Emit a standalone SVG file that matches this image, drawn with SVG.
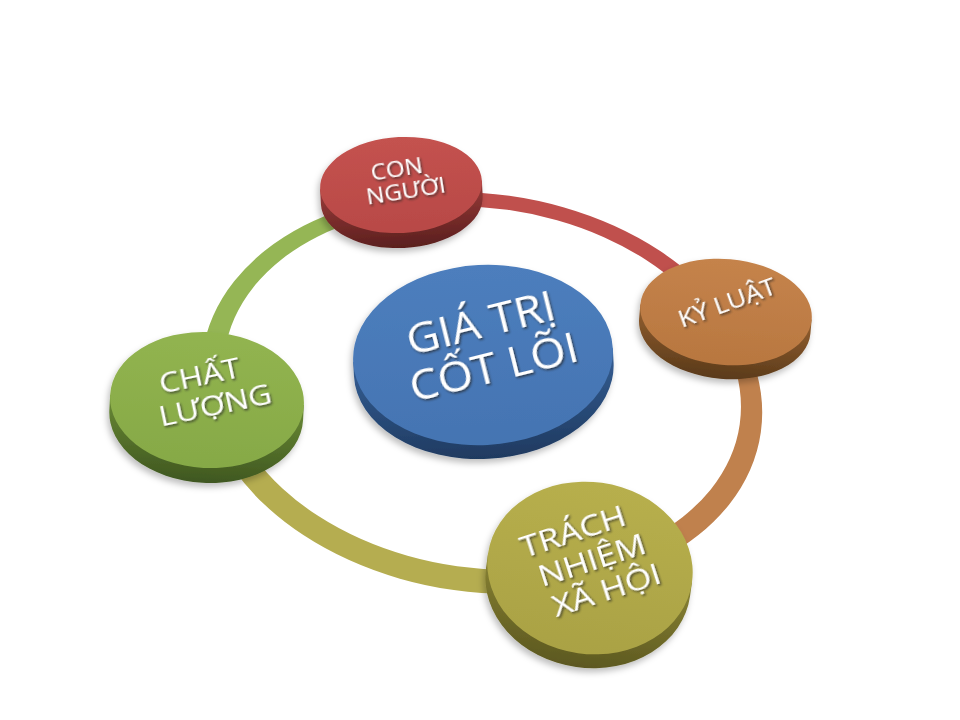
<svg xmlns="http://www.w3.org/2000/svg" width="960" height="720" viewBox="0 0 960 720">
<defs>
<style>
.lbl{font-family:"Open Sans","Noto Sans","DejaVu Sans",sans-serif;fill:#ffffff;text-anchor:middle;filter:url(#txtShadow)}
</style>
<filter id="txtShadow" x="-20%" y="-20%" width="140%" height="150%">
<feDropShadow dx="1" dy="1.8" stdDeviation="0.8" flood-color="#222" flood-opacity="0.75"/>
</filter>
<filter id="discShadow" x="-20%" y="-20%" width="140%" height="150%">
<feDropShadow dx="-2" dy="4" stdDeviation="3" flood-color="#000" flood-opacity="0.25"/>
</filter>
<path id="ring" fill-rule="evenodd" d="M200,393 A282,199 0 1,0 764,393 A282,199 0 1,0 200,393 Z M222,388 A260,180 0 1,0 742,388 A260,180 0 1,0 222,388 Z"/>
<clipPath id="wRed" clipPathUnits="userSpaceOnUse"><polygon points="482,390 72,-635 1700,-635 1700,15"/></clipPath>
<clipPath id="wOrange" clipPathUnits="userSpaceOnUse"><polygon points="482,390 1700,15 1700,1300 1012,1290"/></clipPath>
<clipPath id="wOlive" clipPathUnits="userSpaceOnUse"><polygon points="482,390 1012,1290 -903,1290 -903,465"/></clipPath>
<clipPath id="wGreen" clipPathUnits="userSpaceOnUse"><polygon points="482,390 -903,465 -903,-635 72,-635"/></clipPath>
<linearGradient id="fRed" x1="0" y1="0" x2="0" y2="1"><stop offset="0" stop-color="#c4524f"/><stop offset="1" stop-color="#b84946"/></linearGradient>
<linearGradient id="sRed" x1="0" y1="0" x2="0" y2="1"><stop offset="0" stop-color="#9a3b39"/><stop offset="1" stop-color="#5a1f1e"/></linearGradient>
<linearGradient id="fOrange" x1="0" y1="0" x2="0" y2="1"><stop offset="0" stop-color="#c5834b"/><stop offset="1" stop-color="#b87740"/></linearGradient>
<linearGradient id="sOrange" x1="0" y1="0" x2="0" y2="1"><stop offset="0" stop-color="#946030"/><stop offset="1" stop-color="#5a3a1a"/></linearGradient>
<linearGradient id="fOlive" x1="0" y1="0" x2="0" y2="1"><stop offset="0" stop-color="#b7af4d"/><stop offset="1" stop-color="#aaa244"/></linearGradient>
<linearGradient id="sOlive" x1="0" y1="0" x2="0" y2="1"><stop offset="0" stop-color="#8a8434"/><stop offset="1" stop-color="#5c5820"/></linearGradient>
<linearGradient id="fGreen" x1="0" y1="0" x2="0" y2="1"><stop offset="0" stop-color="#92b450"/><stop offset="1" stop-color="#86a946"/></linearGradient>
<linearGradient id="sGreen" x1="0" y1="0" x2="0" y2="1"><stop offset="0" stop-color="#6a8a35"/><stop offset="1" stop-color="#3f5720"/></linearGradient>
<linearGradient id="fBlue" x1="0" y1="0" x2="0" y2="1"><stop offset="0" stop-color="#4d7ebd"/><stop offset="1" stop-color="#4474b2"/></linearGradient>
<linearGradient id="sBlue" x1="0" y1="0" x2="0" y2="1"><stop offset="0" stop-color="#355f95"/><stop offset="1" stop-color="#1f3a60"/></linearGradient>
</defs>
<rect width="960" height="720" fill="#ffffff"/>

<g id="connectors">
<g clip-path="url(#wRed)"><use href="#ring" transform="rotate(8 482 390)" fill="#c0504d"/></g>
<g clip-path="url(#wOrange)"><use href="#ring" transform="rotate(8 482 390)" fill="#c0814d"/></g>
<g clip-path="url(#wOlive)"><use href="#ring" transform="rotate(8 482 390)" fill="#b5ad50"/></g>
<g clip-path="url(#wGreen)"><use href="#ring" transform="rotate(8 482 390)" fill="#95b655"/></g>
</g>

<g id="node-center" filter="url(#discShadow)">
<g transform="translate(483,355) rotate(-3)">
<path d="M-130,0 L-130,14 A130,90 0 0,0 130,14 L130,0 Z" fill="url(#sBlue)"/>
<ellipse rx="130" ry="90" fill="url(#fBlue)"/>
</g>
</g>
<g id="label-center">
<g transform="translate(486,345) rotate(-14) scale(1.08,1)">
<text class="lbl" x="0" y="-8" font-size="42">GIÁ TRỊ</text>
<text class="lbl" x="2" y="38" font-size="42">CỐT LÕI</text>
</g>
</g>

<g id="node-con-nguoi" filter="url(#discShadow)">
<g transform="translate(401,185) rotate(-3)">
<path d="M-81,0 L-81,15 A81,48 0 0,0 81,15 L81,0 Z" fill="url(#sRed)"/>
<ellipse rx="81" ry="48" fill="url(#fRed)"/>
</g>
<g transform="translate(402,181) rotate(-9) scale(1.15,1)">
<text class="lbl" x="-3" y="-5" font-size="21">CON</text>
<text class="lbl" x="2" y="18" font-size="21">NGƯỜI</text>
</g>
</g>

<g id="node-ky-luat" filter="url(#discShadow)">
<g transform="translate(726,312) rotate(5)">
<path d="M-86,0 L-86,14 A86,53 0 0,0 86,14 L86,0 Z" fill="url(#sOrange)"/>
<ellipse rx="86" ry="53" fill="url(#fOrange)"/>
</g>
<g transform="translate(727,303) rotate(-20) scale(1.15,1)">
<text class="lbl" x="0" y="8" font-size="23">KỶ LUẬT</text>
</g>
</g>

<g id="node-trach-nhiem" filter="url(#discShadow)">
<g transform="translate(590,568) rotate(8)">
<path d="M-103,0 L-103,14 A103,86 0 0,0 103,14 L103,0 Z" fill="url(#sOlive)"/>
<ellipse rx="103" ry="86" fill="url(#fOlive)"/>
</g>
<g transform="translate(590,562) rotate(-18) scale(1.15,1)">
<text class="lbl" x="-6" y="-24" font-size="30">TRÁCH</text>
<text class="lbl" x="2" y="9" font-size="30">NHIỆM</text>
<text class="lbl" x="6" y="42" font-size="30">XÃ HỘI</text>
</g>
</g>

<g id="node-chat-luong" filter="url(#discShadow)">
<g transform="translate(207,400) rotate(3)">
<path d="M-97,0 L-97,15 A97,68 0 0,0 97,15 L97,0 Z" fill="url(#sGreen)"/>
<ellipse rx="97" ry="68" fill="url(#fGreen)"/>
</g>
<g transform="translate(208,388) rotate(-12) scale(1.15,1)">
<text class="lbl" x="-5" y="-4" font-size="28">CHẤT</text>
<text class="lbl" x="3" y="28" font-size="28">LƯỢNG</text>
</g>
</g>
</svg>
